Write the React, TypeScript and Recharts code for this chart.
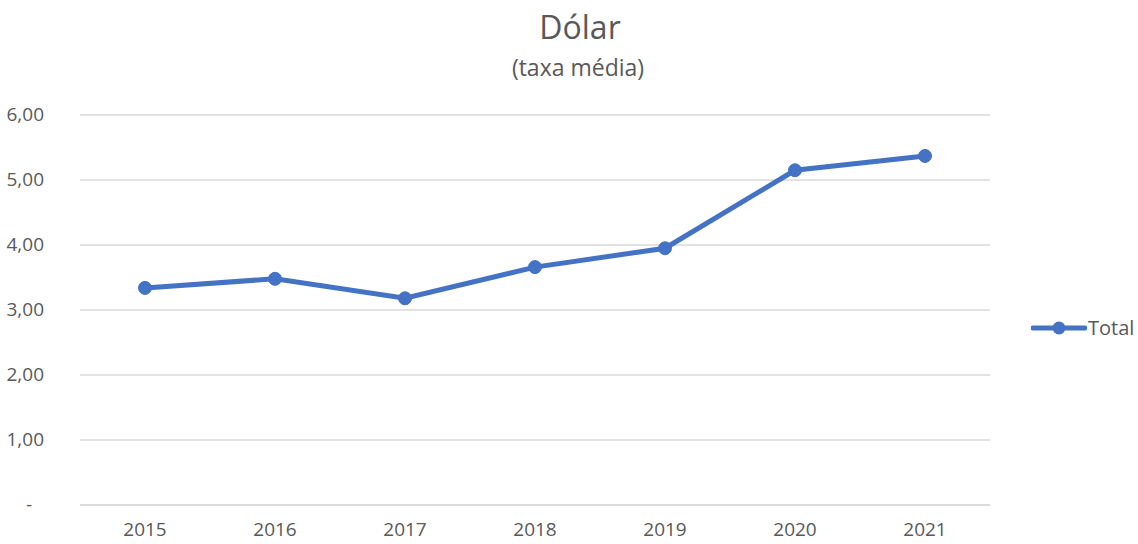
import React from "react";
import { LineChart, Line, XAxis, YAxis, CartesianGrid } from "recharts";

const years = ["2015", "2016", "2017", "2018", "2019", "2020", "2021"];
const total = [3.34, 3.48, 3.18, 3.66, 3.95, 5.15, 5.37];
const yTicks = [0, 1, 2, 3, 4, 5, 6];

const chartData = years.map((year, i) => ({ year, Total: total[i] }));

const FONT = "'Open Sans', 'Noto Sans', sans-serif";
const TEXT = "#595959";
const BLUE = "#4472C4";

const YTick = (props: any) => {
  const { x, y, payload } = props;
  const v = payload.value as number;
  const label = v === 0 ? "-" : v.toFixed(2).replace(".", ",");
  return (
    <text
      x={v === 0 ? x - 40 : x - 28}
      y={y}
      dy={6}
      textAnchor="end"
      fill={TEXT}
      fontSize={19}
      fontFamily={FONT}
    >
      {label}
    </text>
  );
};

export default function App() {
  return (
    <div style={{ position: "absolute", left: 0, top: 0, width: 1138, height: 544, background: "#fff", fontFamily: FONT }}>
      <div style={{ position: "absolute", left: 0, width: 1160, top: 5, textAlign: "center", color: TEXT, fontSize: 32 }}>
        Dólar
      </div>
      <div style={{ position: "absolute", left: 0, width: 1156, top: 51, textAlign: "center", color: TEXT, fontSize: 23 }}>
        (taxa média)
      </div>
      <LineChart
        width={1138}
        height={544}
        data={chartData}
        margin={{ top: 115, right: 148, bottom: 0, left: 0 }}
      >
        <CartesianGrid vertical={false} stroke="#d9d9d9" strokeWidth={1.5} />
        <XAxis
          dataKey="year"
          height={39}
          padding={{ left: 65, right: 65 }}
          tickLine={false}
          axisLine={{ stroke: "#d9d9d9", strokeWidth: 1.5 }}
          tick={{ fill: TEXT, fontSize: 19, fontFamily: FONT }}
          tickMargin={12}
        />
        <YAxis
          width={80}
          domain={[0, 6]}
          ticks={yTicks}
          axisLine={false}
          tickLine={false}
          tick={<YTick />}
        />
        <Line
          type="linear"
          dataKey="Total"
          stroke={BLUE}
          strokeWidth={5}
          dot={{ r: 6.5, fill: BLUE, stroke: BLUE, strokeWidth: 1 }}
          isAnimationActive={false}
        />
      </LineChart>
      <div style={{ position: "absolute", left: 1031, top: 314, display: "flex", alignItems: "center" }}>
        <svg width={56} height={24}>
          <line x1={2} y1={12} x2={54} y2={12} stroke={BLUE} strokeWidth={5} strokeLinecap="round" />
          <circle cx={28} cy={12} r={6.5} fill={BLUE} />
        </svg>
        <span style={{ color: TEXT, fontSize: 20, marginLeft: 1 }}>Total</span>
      </div>
    </div>
  );
}
